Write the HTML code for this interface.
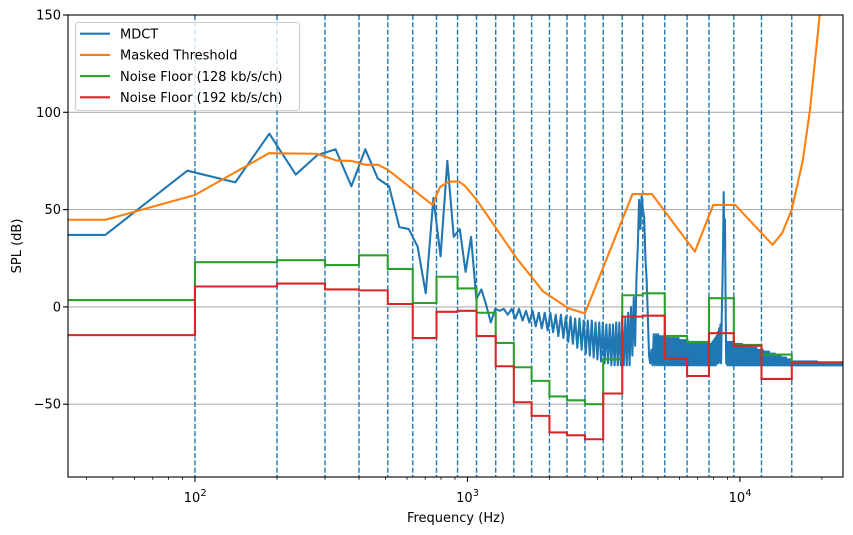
<!DOCTYPE html>
<html><head><meta charset="utf-8">
<style>
html,body{margin:0;padding:0;background:#fff;}
svg{display:block;font-family:"DejaVu Sans","Liberation Sans",sans-serif;}
</style></head>
<body>
<svg id="chart" width="853" height="535" viewBox="0 0 853 535" xmlns="http://www.w3.org/2000/svg">
<defs><clipPath id="clip"><rect x="68" y="15" width="775" height="462"/></clipPath></defs>
<rect x="0" y="0" width="853" height="535" fill="#fff"/>
<g id="grid"></g>
<g id="bands" clip-path="url(#clip)"></g>
<g id="series" clip-path="url(#clip)"></g>
<g id="axes"></g>
<text x="456" y="522" font-size="13" text-anchor="middle">Frequency (Hz)</text>
<text x="21" y="246" font-size="13" text-anchor="middle" transform="rotate(-90 21 246)">SPL (dB)</text>
<g id="legend"></g>
</svg>
<script>
const NS="http://www.w3.org/2000/svg";
// ---- data ----
const bandEdges=[34,100,200,300,400,510,630,770,920,1080,1270,1480,1720,2000,2320,2700,3150,3700,4400,5300,6400,7700,9500,12000,15500,24000];
const noise128=[3.5,23,24,21.5,26.5,19.5,2,15.5,9.5,-3,-18.5,-31,-38,-46,-48,-50,-27,6,7,-15,-18,4.5,-19.5,-24.5,-28.5];
const noise192=[-14.5,10.5,12,9,8.5,1.5,-16,-2.5,-2,-15,-30.5,-49,-56,-64.5,-66,-68,-44.5,-5,-4.5,-26.5,-35.5,-13.5,-20,-37,-28.5];
const threshFreq=[20,47,100,187,280,331,376,424,471,511,745,792,851,931,979,1081,1262,1516,1897,2345,2698,4036,4753,6837,7980,9614,13180,14300,15500,17000,18070,19630,22000];
const threshDb=[44.8,44.8,57.5,79,78.7,75.2,75,73,73,70.4,52.4,61.5,64.4,64.4,62.2,55,41.3,25,7.9,-0.7,-3.3,58,58,28.4,52.4,52.4,31.9,38,50,75,101,150,230];
const binHz=46.875;
const mdct=[37,70,64,89,68,78,81,62,81,66,62,41,40,31,7,56,26,75,36,40,18,36,4,9,1,-8,-1,-2,-1,-4,
-1,-6,-1,-7,-2,-8,-2,-10,-3,-11,-3,-12,-3,-13,
-4,-15,-4,-16,-5,-18,-5,-19,-6,-21,-6,-22,-7,
-24,-7,-25,-7,-26,-8,-27,-8,-28,-8,
-29,-9,-29,-9,-30,-9,-30,-8,-30,-8,-30,-7,
-30,-6,-30,-3,-30,0,
-25,5,-20,15,30,55,40,57,50,46,25,14,-5,-25,-29,
-22,-30,
-14,-30,-14,-30,-14,-30,-15,-30,-15,-30,-15,-30,-15,-30,-15,-30,-16,-30,-16,-30,-16,-30,-16,-30,-16,-30,-17,-30,-17,-30,-17,-30,-17,-30,-17,-30,-18,-30,-18,-30,-18,-30,-18,-30,-18,-30,-18,-30,-19,-30,-19,-30,-19,-30,-19,-30,-19,-30,-19,-30,-19,-30,
-19,
-30,-19,-30,-18,-30,-17,-30,-16,-30,-15,-29,-13,-29,-11,-28,-9,-29,
-5,10,30,59,30,45,5,-29,
-18,-30,-18,-30,-18,-30,-18,-30,-18,-30,-18,-30,-18,-30,
-19,-30,-19,-30,-19,-30,-19,-30,-19,-30,-19,-30,-19,-30,
-20,-30,-20,-30,-20,-30,-20,-30,-20,-30,-20,-30,-20,-30,
-21,-30,-21,-30,-21,-30,-21,-30,-21,-30,-21,-30,-21,-30,
-22,-30,-22,-30,-22,-30,-22,-30,-22,-30,-22,-30,-22,-30,
-23,-30,-23,-30,-23,-30,-23,-30,-23,-30,-23,-30,-23,-30,
-24,-30,-24,-30,-24,-30,-24,-30,-24,-30,-24,-30,-24,-30,
-25,-30,-25,-30,-25,-30,-25,-30,-25,-30,-25,-30,-25,-30,
-26,-30,-26,-30,-26,-30,-26,-30,-26,-30,-26,-30,-26,-30,
-27,-30,-27,-30,-27,-30,-27,-30,-27,-30,-27,-30,-27,-30,
-28,-30,-28,-30,-28,-30,-28,-30,-28,-30,-28,-30,-28,-30,-28,-30,-28,-30,-28,-30,
-28,-30,-28,-30,-28,-30,-28,-30,-28,-30,-28,-30,-28,-30,-28,-30,-28,-30,-28,-30,
-28,-30,-28,-30,-28,-30,-28,-30,-28,-30,-28,-30,-28,-30,-28,-30,-28,-30,-28,-30,
-28,-30,-28,-30,-28,-30,-28,-30,-28,-30,-28,-30,-28,-30,-28,-30,-28,-30,-28,-30,
-29,-30,-29,-30,-29,-30,-29,-30,-29,-30,-29,-30,-29,-30,-29,-30,-29,-30,-29,-30,
-29,-30,-29,-30,-29,-30,-29,-30,-29,-30,-29,-30,-29,-30,-29,-30,-29,-30,-29,-30,
-29,-30,-29,-30,-29,-30,-29,-30,-29,-30,-29,-30,-29,-30,-29,-30,-29,-30,-29,-30,
-29,-30,-29,-30,-29,-30,-29,-30,-29,-30,-29,-30,-29,-30,-29,-30,-29,-30,-29,-30,
-29,-30,-29,-30,-29,-30,-29,-30,-29,-30,-29,-30,-29,-30,-29,-30,-29,-30,-29,-30,
-29.5];
const yTicks=[-50,0,50,100,150];
const xMajor=[100,1000,10000];
const xMajorLabels=["2","3","4"];
const legendLabels=["MDCT","Masked Threshold","Noise Floor (128 kb/s/ch)","Noise Floor (192 kb/s/ch)"];
const colors=["#1f77b4","#ff7f0e","#2ca02c","#d62728"];

// ---- scales ----
const L=68,R=843,T=15,B=477;
const fMin=34.2,fMax=23900,yMin=-87.4,yMax=150;
const lx0=Math.log10(fMin),lx1=Math.log10(fMax);
function xs(f){return L+(Math.log10(f)-lx0)/(lx1-lx0)*(R-L);}
function ys(v){return T+(yMax-v)/(yMax-yMin)*(B-T);}
function mk(tag,attrs,parent){const e=document.createElementNS(NS,tag);for(const k in attrs)e.setAttribute(k,attrs[k]);parent.appendChild(e);return e;}

const grid=document.getElementById('grid');
const axes=document.getElementById('axes');
const bands=document.getElementById('bands');
const series=document.getElementById('series');
const legend=document.getElementById('legend');
const LW=2.08;

// grid + y ticks
yTicks.forEach(v=>{
  const y=ys(v);
  const g=mk('line',{x1:L,x2:R,y1:y,y2:y,stroke:'#b0b0b0','stroke-width':1.1},grid);
  
  
  const t=mk('line',{x1:L-4.9,x2:L,y1:y,y2:y,stroke:'#000','stroke-width':1.1},axes);
  
  
  const lb=mk('text',{x:L-7,y:y+4.5,'font-size':13,'text-anchor':'end'},axes);
  lb.textContent=String(v).replace('-','\u2212');
  
  
});

// band edge dashed lines
bandEdges.slice(1,-1).forEach(f=>{
  const x=xs(f);
  const d=mk('line',{x1:x,x2:x,y1:T,y2:B,stroke:'#1f77b4','stroke-width':1.39,'stroke-dasharray':'5.1,2.2'},bands);
  
  
});

// MDCT
let p='';
p+='M'+(L-5)+','+ys(mdct[0]).toFixed(2);
mdct.forEach((v,i)=>{const f=(i+1)*binHz;p+=' L'+xs(f).toFixed(2)+','+ys(v).toFixed(2);});
const mline=mk('path',{d:p,fill:'none',stroke:colors[0],'stroke-width':LW,'stroke-linejoin':'round'},series);



// threshold
p='';
threshFreq.forEach((f,i)=>{p+=(i?' L':'M')+xs(f).toFixed(2)+','+ys(threshDb[i]).toFixed(2);});
const tline=mk('path',{d:p,fill:'none',stroke:colors[1],'stroke-width':LW,'stroke-linejoin':'round'},series);



// noise floors
function stepPath(vals){
  let s='M'+(L-5)+','+ys(vals[0]).toFixed(2);
  vals.forEach((v,i)=>{
    s+=' L'+xs(bandEdges[i]).toFixed(2)+','+ys(v).toFixed(2);
    s+=' L'+xs(bandEdges[i+1]).toFixed(2)+','+ys(v).toFixed(2);
  });
  return s;
}
const g1=mk('path',{d:stepPath(noise128),fill:'none',stroke:colors[2],'stroke-width':LW},series);


const r1=mk('path',{d:stepPath(noise192),fill:'none',stroke:colors[3],'stroke-width':LW},series);



// x ticks
for(let dec=10;dec<=10000;dec*=10){
  for(let m=1;m<10;m++){
    const f=dec*m;
    if(f<fMin||f>fMax)continue;
    const major=(m===1);
    const x=xs(f);
    const t=mk('line',{x1:x,x2:x,y1:B,y2:B+(major?4.9:2.8),stroke:'#000','stroke-width':major?1.1:0.8},axes);
    
    
  }
}
xMajor.forEach((f,i)=>{
  const x=xs(f);
  const lb=mk('text',{x:x-3,y:502,'font-size':13,'text-anchor':'middle'},axes);
  lb.textContent='10';
  
  
  const sp=mk('text',{x:x+8.5,y:496,'font-size':9.5,'text-anchor':'middle'},axes);
  sp.textContent=xMajorLabels[i];
  
  
});

// frame
const fr=mk('rect',{x:L,y:T,width:R-L,height:B-T,fill:'none',stroke:'#000','stroke-width':1.1},axes);



// legend
const lb=mk('rect',{x:75.5,y:22.5,width:224,height:88,rx:3,fill:'#fff','fill-opacity':0.8,stroke:'#cccccc','stroke-width':1.1},legend);


legendLabels.forEach((s,i)=>{
  const y=33.7+i*21.2;
  const ln=mk('line',{x1:80,x2:110,y1:y,y2:y,stroke:colors[i],'stroke-width':LW},legend);
  
  
  const tx=mk('text',{x:120,y:y+4.7,'font-size':13},legend);
  tx.textContent=s;
  
  
});
</script>
</body></html>
